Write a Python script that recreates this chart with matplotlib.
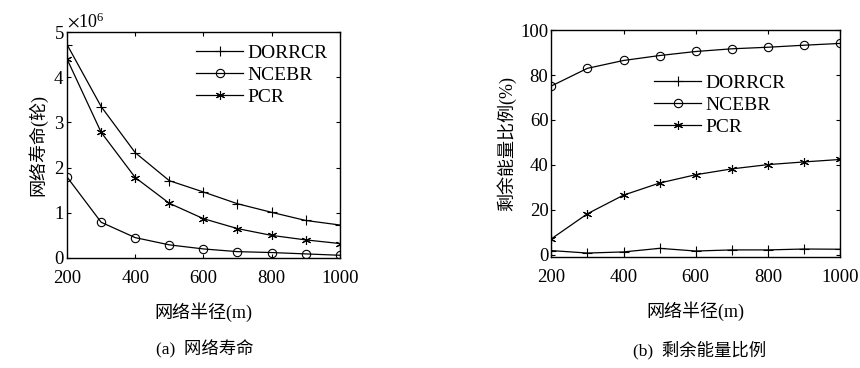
import numpy as np
import matplotlib
matplotlib.use("Agg")
import matplotlib.pyplot as plt
from matplotlib.ticker import ScalarFormatter

plt.rcParams['font.family'] = ['Liberation Serif', 'Noto Sans CJK SC']
plt.rcParams['mathtext.fontset'] = 'stix'
plt.rcParams['font.size'] = 13

radius = [200, 300, 400, 500, 600, 700, 800, 900, 1000]

# (a) network lifetime, rounds
life_dorrcr = [4.72e6, 3.35e6, 2.33e6, 1.71e6, 1.46e6, 1.20e6, 1.01e6, 0.83e6, 0.73e6]
life_ncebr = [1.79e6, 0.79e6, 0.45e6, 0.29e6, 0.20e6, 0.14e6, 0.12e6, 0.09e6, 0.06e6]
life_pcr = [4.40e6, 2.78e6, 1.78e6, 1.21e6, 0.87e6, 0.65e6, 0.50e6, 0.40e6, 0.32e6]

# (b) residual energy ratio, %
energy_dorrcr = [1.8, 0.7, 1.2, 2.8, 1.6, 2.1, 2.1, 2.5, 2.4]
energy_ncebr = [75.1, 83.0, 86.5, 88.7, 90.5, 91.7, 92.4, 93.3, 94.1]
energy_pcr = [7.0, 18.2, 26.5, 31.9, 35.6, 38.2, 40.1, 41.3, 42.4]

names = ["DORRCR", "NCEBR", "PCR"]
markers = ['+', 'o', (6, 2, 0)]  # last one: matlab-style asterisk
msizes = [7, 6, 6.5]

fig = plt.figure(figsize=(8.6, 3.68), dpi=100)
ax1 = fig.add_axes([0.078, 0.299, 0.317, 0.614])
ax2 = fig.add_axes([0.641, 0.302, 0.336, 0.616])


def draw(ax, series):
    for y, name, m, ms in zip(series, names, markers, msizes):
        ax.plot(radius, y, color='k', linewidth=0.9, marker=m, markersize=ms,
                markerfacecolor='none', markeredgecolor='k', markeredgewidth=0.8,
                label=name)
    ax.set_xlim(200, 1000)
    ax.set_xticks([200, 400, 600, 800, 1000])
    ax.tick_params(direction='in', top=True, right=True, length=3, labelsize=13.5)
    ax.tick_params(axis='x', pad=9)
    ax.tick_params(axis='y', pad=2)
    for s in ax.spines.values():
        s.set_linewidth(1.0)
    ax.set_xlabel("网络半径(m)", fontsize=13, labelpad=11)


draw(ax1, [life_dorrcr, life_ncebr, life_pcr])
ax1.set_ylim(0, 5e6)
ax1.set_yticks(np.arange(0, 5.1e6, 1e6))
fmt = ScalarFormatter(useMathText=True)
fmt.set_powerlimits((0, 0))
ax1.yaxis.set_major_formatter(fmt)
ax1.yaxis.get_offset_text().set_fontsize(13)
ax1.set_ylabel("网络寿命(轮)", fontsize=13, labelpad=4)
ax1.legend(loc='upper right', frameon=False, fontsize=14, handlelength=2.4,
           handletextpad=0.2, labelspacing=0.22, borderaxespad=0.25)

draw(ax2, [energy_dorrcr, energy_ncebr, energy_pcr])
ax2.set_ylim(-1, 100)
ax2.set_yticks([0, 20, 40, 60, 80, 100])
ax2.set_ylabel("剩余能量比例(%)", fontsize=13, labelpad=3)
ax2.legend(loc='center right', bbox_to_anchor=(0.87, 0.67), frameon=False, fontsize=14,
           handlelength=2.4, handletextpad=0.2, labelspacing=0.22)

fig.text(0.238, 0.05, "(a)  网络寿命", ha='center', va='center', fontsize=12.5)
fig.text(0.813, 0.05, "(b)  剩余能量比例", ha='center', va='center', fontsize=12.5)

fig.savefig("out.png", dpi=100)
